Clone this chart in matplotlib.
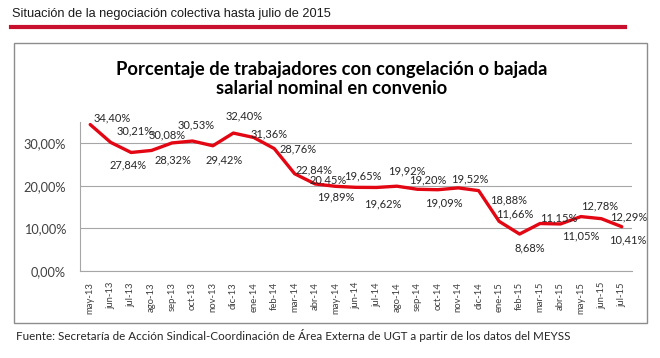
import matplotlib.pyplot as plt
from matplotlib.patches import Rectangle
from matplotlib.lines import Line2D

W, H = 660, 358

# datos
meses = ["may-13", "jun-13", "jul-13", "ago-13", "sep-13", "oct-13", "nov-13",
         "dic-13", "ene-14", "feb-14", "mar-14", "abr-14", "may-14", "jun-14",
         "jul-14", "ago-14", "sep-14", "oct-14", "nov-14", "dic-14", "ene-15",
         "feb-15", "mar-15", "abr-15", "may-15", "jun-15", "jul-15"]
porcentaje = [34.40, 30.21, 27.84, 28.32, 30.08, 30.53, 29.42, 32.40, 31.36,
              28.76, 22.84, 20.45, 19.89, 19.65, 19.62, 19.92, 19.20, 19.09,
              19.52, 18.88, 11.66, 8.68, 11.15, 11.05, 12.78, 12.29, 10.41]
y_ticks = [0, 10, 20, 30]

# desplazamiento de cada etiqueta (px)
label_offsets = [(22, -7), (24, -11), (-3, 12), (21, 9), (-5, -8), (4, -16),
                 (11, 14), (11, -17), (15, -4), (24, 0), (19, -4), (13, -4),
                 (0, 11), (7, -11), (6, 16), (10, -15), (10, -9), (6, 13),
                 (12, -9), (30, 9), (16, -7), (10, 14), (19, -6), (20, 12),
                 (19, -11), (27, -2), (6, 13)]

plt.rcParams["font.family"] = ["Lato", "DejaVu Sans"]

fig = plt.figure(figsize=(W / 100, H / 100), dpi=100)


def fx(px):
    return px / W


def fy(py):
    return 1 - py / H


# cabecera
fig.text(fx(12), fy(14), "Situación de la negociación colectiva hasta julio de 2015",
         family="Liberation Sans", fontsize=9.2, color="#1a1a1a", va="center", ha="left")
fig.add_artist(Line2D([fx(11), fx(625)], [fy(27), fy(27)], color="#c8102e", lw=3,
                      transform=fig.transFigure))

# marco del grafico
fig.add_artist(Rectangle((fx(14), fy(323)), fx(647) - fx(14), fy(43) - fy(323),
                         transform=fig.transFigure, fill=False, edgecolor="#8c8c8c", lw=1))

fig.text(fx(332), fy(79), "Porcentaje de trabajadores con congelación o bajada\nsalarial nominal en convenio",
         fontsize=13.2, fontweight="bold", color="#000000", ha="center", va="center",
         linespacing=1.15)

# ejes
left, right, bottom, top = 80, 632, 271, 122
ax = fig.add_axes([fx(left), fy(bottom), fx(right) - fx(left), fy(top) - fy(bottom)])
x = list(range(len(meses)))
ax.plot(x, porcentaje, color="#e30613", lw=2.4, solid_joinstyle="round",
        solid_capstyle="round", zorder=3)

ax.set_xlim(-0.5, len(meses) - 0.5)
ax.set_ylim(0, 35)
ax.set_yticks(y_ticks)
ax.set_yticklabels([f"{v:.2f}%".replace(".", ",") for v in y_ticks])
ax.set_xticks(x)
ax.set_xticklabels(meses, rotation=90)
ax.tick_params(axis="y", length=0, pad=10, labelsize=9.2, labelcolor="#404040")
ax.tick_params(axis="x", length=0, pad=8, labelsize=6.8, labelcolor="#404040")
ax.grid(axis="y", color="#a6a6a6", lw=0.8)
ax.set_axisbelow(True)
for s in ["top", "right"]:
    ax.spines[s].set_visible(False)
for s in ["left", "bottom"]:
    ax.spines[s].set_color("#a6a6a6")
    ax.spines[s].set_linewidth(0.8)

for xi, v, (dx, dy) in zip(x, porcentaje, label_offsets):
    ax.annotate(f"{v:.2f}%".replace(".", ","), (xi, v), xytext=(dx * 0.72, -dy * 0.72),
                textcoords="offset points", ha="center", va="center",
                fontsize=8, color="#262626", zorder=4)

# fuente
fig.text(fx(16), fy(335), "Fuente: Secretaría de Acción Sindical-Coordinación de Área Externa de UGT a partir de los datos del MEYSS",
         fontsize=8.4, color="#262626", ha="left", va="center")

fig.savefig("out.png", dpi=100)
